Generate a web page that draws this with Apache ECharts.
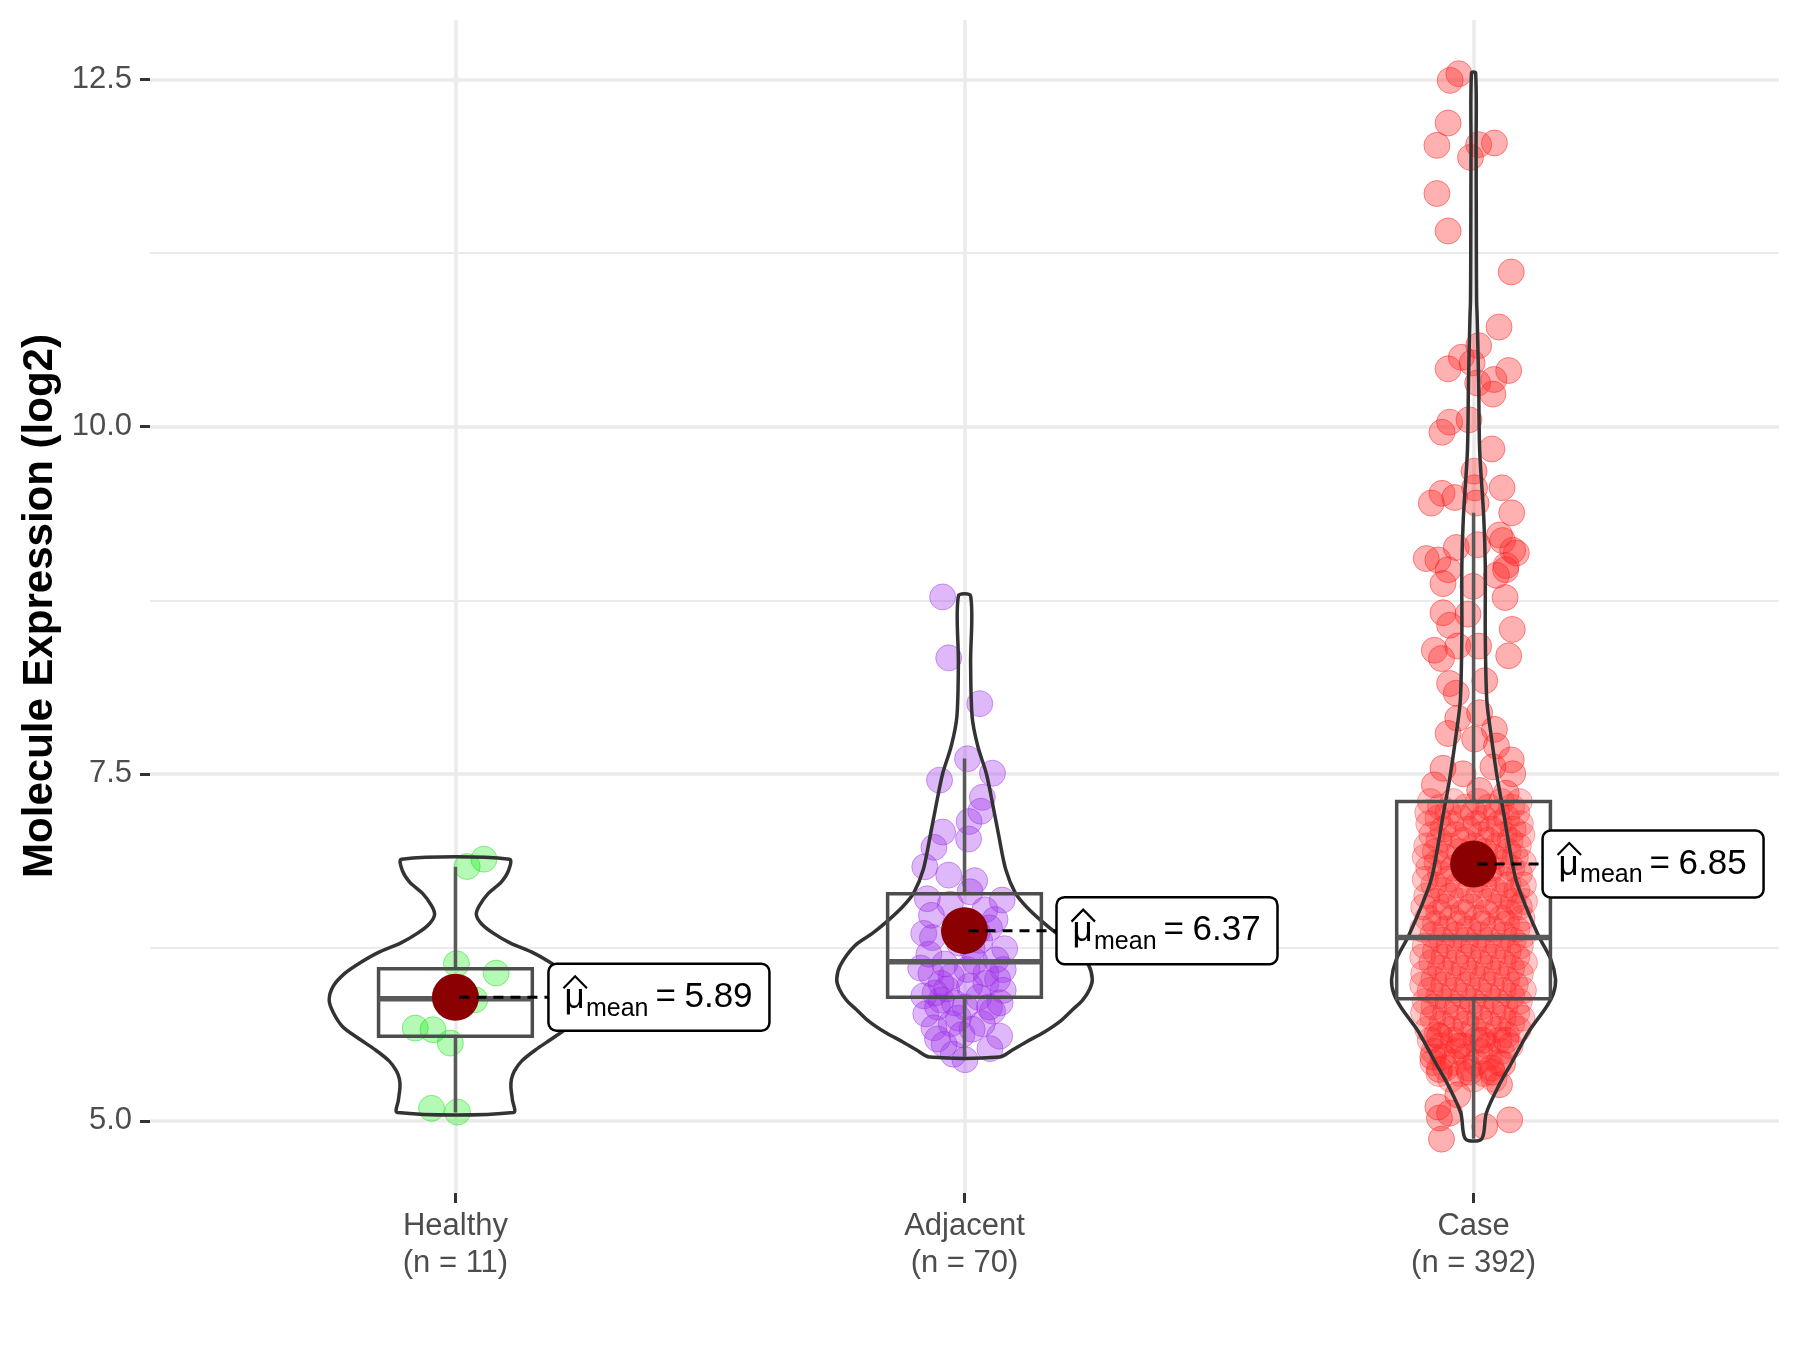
<!DOCTYPE html>
<html>
<head>
<meta charset="utf-8">
<script src="https://cdn.jsdelivr.net/npm/echarts@6/dist/echarts.min.js"></script>
<style>
html,body{margin:0;padding:0;background:#fff;}
#chart{width:1800px;height:1350px;}
</style>
</head>
<body>
<div id="chart"></div>
<script>
// groups and summary values
var groups = ['Healthy', 'Adjacent', 'Case'];
var groupN = [11, 70, 392];
var meanValues = [5.89, 6.37, 6.85];
// [lower whisker, q1, median, q3, upper whisker]
var boxStats = [
	[5.06, 5.61, 5.88, 6.095, 6.83],
	[5.46, 5.89, 6.146, 6.635, 7.61],
	[4.87, 5.88, 6.32, 7.30, 9.38]
];
var yTicks = [5.0, 7.5, 10.0, 12.5];
var yMinorTicks = [6.25, 8.75, 11.25];

// violin outlines: [value, half width in x units]
var violinHealthy = [[6.885,0.106],[6.80,0.104],[6.72,0.090],[6.64,0.065],[6.55,0.047],[6.485,0.041],[6.42,0.051],[6.35,0.075],[6.28,0.108],[6.21,0.153],[6.13,0.191],[6.06,0.218],[5.97,0.240],[5.87,0.248],[5.78,0.240],[5.68,0.222],[5.60,0.193],[5.51,0.157],[5.43,0.130],[5.36,0.116],[5.30,0.110],[5.24,0.109],[5.15,0.112],[5.06,0.114]];
var violinAdjacent = [[8.78,0.012],[8.30,0.012],[7.91,0.015],[7.70,0.026],[7.50,0.043],[7.25,0.057],[7.06,0.067],[6.81,0.081],[6.64,0.100],[6.54,0.122],[6.44,0.151],[6.35,0.181],[6.26,0.216],[6.12,0.244],[6.02,0.251],[5.95,0.246],[5.87,0.232],[5.80,0.212],[5.72,0.189],[5.64,0.157],[5.57,0.122],[5.51,0.094],[5.46,0.069]];
var violinCase = [[12.55,0.004],[12.0,0.005],[11.27,0.0055],[10.91,0.006],[10.80,0.007],[10.32,0.010],[9.83,0.012],[9.35,0.020],[9.0,0.023],[8.51,0.023],[8.03,0.026],[7.79,0.034],[7.46,0.047],[7.22,0.059],[6.98,0.070],[6.74,0.083],[6.55,0.102],[6.33,0.128],[6.16,0.152],[6.02,0.161],[5.92,0.157],[5.82,0.143],[5.64,0.108],[5.42,0.075],[5.25,0.049],[5.055,0.025],[4.87,0.016]];

// jittered points: [x offset, value]
var healthyPoints = [[0.023,6.832],[0.056,6.885],[0.002,6.131],[0.080,6.064],[0.038,5.872],[-0.079,5.668],[-0.044,5.656],[-0.010,5.56],[-0.047,5.09],[0.004,5.063],[-0.005,5.93]];
var adjacentPoints = [[-0.043,8.774],[-0.031,8.335],[0.030,8.005],[0.006,7.608],[0.055,7.504],[-0.049,7.454],[0.035,7.33],[0.032,7.23],[0.009,7.156],[-0.043,7.08],
	[0.008,7.03],[-0.060,6.97],[-0.078,6.83],[-0.031,6.77],[0.020,6.73],[0.011,6.65],[-0.073,6.60],[0.074,6.59],[-0.080,6.35],[-0.063,6.32],
	[0.049,6.39],[0.079,6.24],[0.062,6.16],[-0.066,6.06],[-0.026,6.04],[0.005,6.09],[0.076,6.09],[0.042,5.99],[0.076,5.94],[-0.080,5.90],
	[-0.046,5.87],[-0.053,5.82],[0.001,5.82],[0.049,5.82],[-0.076,5.77],[-0.012,5.74],[0.055,5.79],[-0.060,5.67],[-0.026,5.70],[-0.053,5.59],
	[0.069,5.61],[-0.022,5.48],[0.001,5.44],[0.042,6.06],[-0.046,5.99],[0.028,5.89],[-0.039,6.13],[0.015,6.24],[-0.086,6.10],[0.030,6.30],
	[-0.015,6.42],[0.060,6.45],[-0.070,6.20],[0.020,6.15],[-0.035,5.95],[0.010,5.97],[0.065,6.02],[-0.058,5.92],[0.035,5.70],[-0.005,5.62],
	[0.050,5.52],[-0.040,5.55],[0.015,5.66],[-0.020,5.85],[0.025,6.36],[-0.010,6.28],[0.070,5.85],[-0.065,6.48],[0.040,6.52],[-0.028,6.56]];
var caseSparse = [[-0.029,12.543],[-0.046,12.495],[-0.050,12.188],[-0.072,12.027],[0.010,12.032],[0.041,12.044],[-0.006,11.94],[-0.072,11.68],[-0.050,11.41],[0.074,11.115],
	[0.050,10.718],[0.010,10.584],[-0.024,10.50],[-0.003,10.46],[-0.050,10.417],[0.069,10.405],[0.040,10.34],[0.008,10.315],[0.038,10.235],[-0.047,10.033],
	[-0.009,10.05],[-0.062,9.96],[0.036,9.84],[0.001,9.68],[0.056,9.56],[0.002,9.56],[-0.062,9.52],[-0.037,9.49],[0.005,9.45],[-0.083,9.45],
	[0.075,9.38],[0.051,9.22],[0.077,9.11],[-0.070,9.04],[-0.034,9.13],[0.008,9.15],[0.057,9.18],[0.084,9.09],[0.045,8.93],[0.064,9.00],[-0.093,9.05],
	[-0.050,8.97],[0.063,8.97],[-0.060,8.87],[-0.001,8.85],[0.062,8.77],[-0.060,8.66],[-0.011,8.65],[0.076,8.54],[-0.047,8.57],[-0.077,8.39],
	[-0.031,8.42],[0.010,8.42],[0.069,8.35],[-0.063,8.33],[-0.047,8.15],[0.022,8.17],[-0.034,8.08],[0.012,7.94],[-0.031,7.90],[-0.050,7.79],
	[0.041,7.82],[0.002,7.75],[0.045,7.70],[0.074,7.60],[-0.060,7.54],[-0.021,7.50],[-0.077,7.42],[0.038,7.55],[0.077,7.50],[0.064,7.36],[0.012,7.38],
	[-0.063,4.868],[-0.067,5.02],[0.071,5.007],[0.022,4.96],[-0.070,5.10],[-0.047,5.055],[0.051,5.26],[-0.031,5.187],[-0.080,5.46],[-0.067,5.37],
	[0.057,5.41],[-0.008,5.35],[0.037,5.35],[-0.067,5.61],[-0.028,5.54],[0.064,5.58],[0.018,5.58]];
// dense part of Case: [value, [x offsets]]
var caseRows = [
	[7.30,[-0.085,-0.040,0.010,0.055,0.090]],[7.26,[-0.065,-0.015,0.030,0.075]],[7.22,[-0.090,-0.050,0.000,0.045,0.085]],
	[7.18,[-0.070,-0.025,0.020,0.065]],[7.14,[-0.088,-0.045,0.005,0.050,0.092]],[7.10,[-0.060,-0.010,0.035,0.078]],
	[7.06,[-0.082,-0.035,0.015,0.060,0.095]],[7.02,[-0.068,-0.020,0.028,0.072]],[6.98,[-0.092,-0.048,0.002,0.047,0.088]],
	[6.94,[-0.075,-0.028,0.022,0.068]],[6.90,[-0.095,-0.055,-0.008,0.040,0.082]],[6.86,[-0.072,0.060,0.098]],
	[6.82,[-0.088,-0.040,0.035,0.075]],[6.78,[-0.065,-0.015,0.030,0.090]],[6.74,[-0.095,-0.050,0.005,0.055]],
	[6.70,[-0.078,-0.030,0.020,0.068,0.098]],[6.66,[-0.060,-0.008,0.042,0.085]],[6.62,[-0.092,-0.045,0.010,0.060]],
	[6.58,[-0.075,-0.025,0.030,0.078,0.100]],[6.54,[-0.098,-0.055,-0.005,0.048,0.090]],[6.50,[-0.068,-0.020,0.025,0.070]],
	[6.46,[-0.090,-0.042,0.008,0.055,0.095]],[6.42,[-0.075,-0.028,0.018,0.065]],[6.38,[-0.100,-0.055,-0.010,0.038,0.085]],
	[6.34,[-0.080,-0.035,0.012,0.060,0.098]],[6.30,[-0.062,-0.015,0.030,0.078]],[6.26,[-0.095,-0.048,0.000,0.048,0.092]],
	[6.22,[-0.075,-0.028,0.020,0.068]],[6.18,[-0.100,-0.058,-0.010,0.038,0.085]],[6.14,[-0.082,-0.035,0.012,0.058,0.100]],
	[6.10,[-0.065,-0.018,0.028,0.075]],[6.06,[-0.098,-0.050,-0.002,0.045,0.092]],[6.02,[-0.078,-0.030,0.018,0.065]],
	[5.98,[-0.100,-0.058,-0.012,0.035,0.082]],[5.94,[-0.085,-0.038,0.010,0.058,0.098]],[5.90,[-0.068,-0.020,0.028,0.075]],
	[5.86,[-0.095,-0.050,-0.002,0.045,0.090]],[5.82,[-0.078,-0.032,0.015,0.062]],[5.78,[-0.098,-0.055,-0.008,0.038,0.085]],
	[5.74,[-0.080,-0.035,0.012,0.058,0.095]],[5.70,[-0.062,-0.015,0.030,0.075]],[5.66,[-0.090,-0.045,0.000,0.048,0.088]],
	[5.62,[-0.072,-0.025,0.020,0.065]],[5.58,[-0.085,-0.040,0.005,0.050]],[5.54,[-0.065,-0.020,0.028,0.072]],
	[5.50,[-0.078,-0.032,0.012,0.055]],[5.46,[-0.060,-0.015,0.030]],[5.42,[-0.080,-0.040,0.005,0.050]],
	[5.38,[-0.055,-0.010,0.035]],[5.34,[-0.068,-0.025,0.020]],[5.30,[-0.045,0.000,0.040]]
];

var FONT = '"Liberation Sans", Arial, sans-serif';
var violins = [violinHealthy, violinAdjacent, violinCase];
var labelNudge = [93, 92, 69]; // px from the mean point to the label box
var BOX_HW = 0.151;

function toXY(g, pts){
	return pts.map(function(p){ return [g + 1 + p[0], p[1]]; });
}
var caseDense = [];
caseRows.forEach(function(r){
	r[1].forEach(function(j){ caseDense.push([j, r[0]]); });
});

function pointSeries(data, fill, border){
	return {
		type: 'scatter', silent: true, z: 2,
		data: data, symbolSize: 26,
		itemStyle: {color: fill, borderColor: border, borderWidth: 1}
	};
}

var chart = echarts.init(document.getElementById('chart'));
var option = {
	animation: false,
	backgroundColor: '#fff',
	grid: {left: 150, right: 21, top: 20, bottom: 157},
	xAxis: {
		type: 'value', min: 0.4, max: 3.6,
		axisLine: {show: false},
		axisTick: {show: true, customValues: [1, 2, 3], length: 10, lineStyle: {color: '#333', width: 3}},
		axisLabel: {
			customValues: [1, 2, 3],
			formatter: function(v){
				var i = Math.round(v) - 1;
				return groups[i] + '\n(n = ' + groupN[i] + ')';
			},
			fontSize: 31, color: '#4D4D4D', fontFamily: FONT, lineHeight: 37, margin: 15
		},
		splitLine: {show: true, lineStyle: {color: '#EBEBEB', width: 3.5}}
	},
	yAxis: [{
		type: 'value', min: 4.48, max: 12.93,
		axisLine: {show: false},
		axisTick: {show: true, customValues: yTicks, length: 10, lineStyle: {color: '#333', width: 3}},
		axisLabel: {
			customValues: yTicks,
			formatter: function(v){ return v.toFixed(1); },
			fontSize: 31, color: '#4D4D4D', fontFamily: FONT, margin: 18
		},
		splitLine: {show: true, lineStyle: {color: '#EBEBEB', width: 3.5}}
	}, {
		type: 'value', min: 4.48, max: 12.93,
		axisLine: {show: false},
		axisTick: {show: false, customValues: yMinorTicks},
		axisLabel: {show: false},
		splitLine: {show: true, lineStyle: {color: '#EBEBEB', width: 2}}
	}],
	graphic: [{
		type: 'text', x: 40, y: 606, rotation: Math.PI / 2,
		style: {
			text: 'Molecule Expression (log2)', fill: '#000',
			font: 'bold 42px ' + FONT,
			align: 'center', verticalAlign: 'middle',
			textAlign: 'center', textVerticalAlign: 'middle'
		}
	}],
	series: [
		pointSeries(toXY(0, healthyPoints), 'rgba(0,235,0,0.37)', 'rgba(0,215,0,0.5)'),
		pointSeries(toXY(1, adjacentPoints), 'rgba(160,50,235,0.43)', 'rgba(150,45,230,0.55)'),
		pointSeries(toXY(2, caseSparse), 'rgba(255,40,40,0.45)', 'rgba(255,30,30,0.6)'),
		pointSeries(toXY(2, caseDense), 'rgba(255,40,40,0.32)', 'rgba(255,30,30,0.42)'),
		{
			// violins
			type: 'custom', silent: true, z: 3,
			data: [[1, 0], [2, 0], [3, 0]],
			renderItem: function(params, api){
				var g = params.dataIndex;
				var prof = violins[g];
				var pts = [];
				prof.forEach(function(r){ pts.push(api.coord([g + 1 + r[1], r[0]])); });
				for (var i = prof.length - 1; i >= 0; i--) {
					pts.push(api.coord([g + 1 - prof[i][1], prof[i][0]]));
				}
				return {
					type: 'polygon', shape: {points: pts, smooth: 0.3},
					style: {fill: 'none', stroke: '#333333', lineWidth: 3.5}
				};
			}
		},
		{
			// box plots
			type: 'custom', silent: true, z: 3,
			data: [[1, 0], [2, 0], [3, 0]],
			renderItem: function(params, api){
				var g = params.dataIndex;
				var s = boxStats[g];
				var x = g + 1;
				var tl = api.coord([x - BOX_HW, s[3]]);
				var br = api.coord([x + BOX_HW, s[1]]);
				var c = api.coord([x, s[2]]);
				var lo = api.coord([x, s[0]]);
				var hi = api.coord([x, s[4]]);
				var lineStyle = {stroke: '#595959', lineWidth: 3.5};
				return {
					type: 'group',
					children: [
						{type: 'line', shape: {x1: c[0], y1: hi[1], x2: c[0], y2: tl[1]}, style: lineStyle},
						{type: 'line', shape: {x1: c[0], y1: br[1], x2: c[0], y2: lo[1]}, style: lineStyle},
						{type: 'rect', shape: {x: tl[0], y: tl[1], width: br[0] - tl[0], height: br[1] - tl[1]},
							style: {fill: 'none', stroke: '#4D4D4D', lineWidth: 3.5}},
						{type: 'line', shape: {x1: tl[0], y1: c[1], x2: br[0], y2: c[1]},
							style: {stroke: '#595959', lineWidth: 5.5}}
					]
				};
			}
		},
		{
			type: 'scatter', silent: true, z: 4,
			data: meanValues.map(function(m, i){ return [i + 1, m]; }),
			symbolSize: 47,
			itemStyle: {color: '#8B0000', opacity: 1}
		},
		{
			// mean labels
			type: 'custom', silent: true, z: 5,
			data: meanValues.map(function(m, i){ return [i + 1, m]; }),
			renderItem: function(params, api){
				var g = params.dataIndex;
				var p = api.coord([api.value(0), api.value(1)]);
				var L = p[0] + labelNudge[g];
				var C = p[1];
				var txt = function(t, x, y, size){
					return {type: 'text', style: {
						text: t, x: x, y: y, fill: '#000',
						font: size + 'px ' + FONT,
						align: 'left', verticalAlign: 'middle',
						textAlign: 'left', textVerticalAlign: 'middle'
					}};
				};
				return {
					type: 'group',
					children: [
						{type: 'line', shape: {x1: p[0] + 4, y1: C, x2: L, y2: C},
							style: {stroke: '#000', lineWidth: 3, lineDash: [10, 7]}},
						{type: 'rect', shape: {x: L, y: C - 33.5, width: 221, height: 67, r: 8},
							style: {fill: '#fff', stroke: '#000', lineWidth: 2.5}},
						{type: 'polyline', shape: {points: [[L + 15, C - 9], [L + 26.7, C - 21], [L + 38.5, C - 9]]},
							style: {stroke: '#000', lineWidth: 2.2, fill: 'none'}},
						txt('\u03bc', L + 16, C + 1, 35),
						txt('mean', L + 37.5, C + 11.5, 25),
						txt('=', L + 107, C, 35),
						txt(meanValues[g].toFixed(2), L + 136, C, 35)
					]
				};
			}
		}
	]
};
chart.setOption(option);
</script>
</body>
</html>
